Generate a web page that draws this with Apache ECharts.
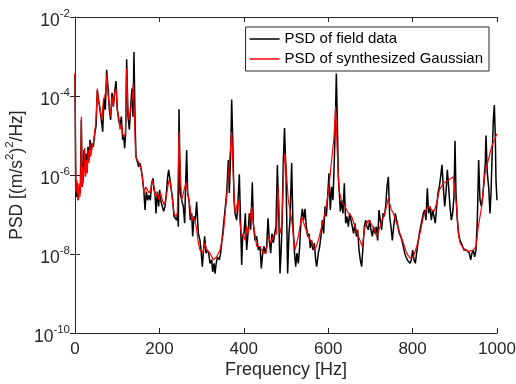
<!DOCTYPE html>
<html>
<head>
<meta charset="utf-8">
<script src="https://cdn.jsdelivr.net/npm/echarts@6/dist/echarts.min.js"></script>
<style>html,body{margin:0;padding:0;background:#fff}#c{width:516px;height:384px}</style>
</head>
<body>
<div id="c"></div>
<script>
// ---- data ----
const xTicks = [0, 200, 400, 600, 800, 1000];
const yTickExps = [-10, -8, -6, -4, -2];
const seriesNames = ['PSD of field data', 'PSD of synthesized Gaussian'];

const blackFreq = [0,1.6,4,5.5,7.9,10.3,12.6,15,17.4,19.8,21.3,23.7,26,28.4,30.8,33.2,35.5,38.7,41,43.5,46.6,49.8,52.9,56,59.2,62.4,65.6,68.7,71.9,75,78.2,81.4,84.5,87.7,90.9,94,97.2,100.3,103.5,106.7,109.8,113,115.3,117.7,120,122.4,125.6,128.8,131.9,135,137.5,139.8,142.2,144.6,147.7,150.9,154,157.2,160.4,163.5,165.9,169,172.2,175.4,178.5,181.7,184.9,187.2,189.6,192,195.1,198.3,200.7,203.8,207,210.1,213.3,216.5,219.6,222,225.2,228.3,231.5,234.6,237.8,241,243.3,244.9,246.5,249.5,252.8,256.7,259.9,262.2,264.6,267,270.1,273.3,276.5,278.8,282,285.1,288.3,292.3,296.2,298.6,301.7,304.1,307.3,310.4,313.6,316.7,319.9,323.9,326.2,329.4,331.8,334.1,337.3,342,345.2,348.3,351.5,355.5,359.4,363.4,365.7,368.9,371.3,373.6,376.8,379.2,383.1,386.3,389.4,392.6,395,397.3,400.5,403.6,406.8,410,413.1,416.3,420.2,422.6,426.6,430.5,434.5,438.4,441.6,444.7,447.9,451,454.2,457.4,460.5,463.7,466.8,470,473.2,476.3,479.5,482.6,485.8,488.2,490.5,493.7,496.5,500,503.9,507,509.5,513.4,516.6,519.7,522.9,526,529.2,532.4,535.5,538.7,541.8,545,548.2,551.3,554.5,557.6,560.8,564,567.1,570.3,572.7,576.6,579.8,582.9,586.1,589.2,592.4,595.6,598.7,601.9,605,608.2,611.4,614.5,616.9,619.3,621.6,624,626.4,628.7,631.9,635,638.2,641.4,644.5,647.7,650.9,654,657.2,660.3,663.5,666.7,669.8,673,676.1,679.3,682.5,685.6,688.8,691.9,695.1,698.3,701.4,704.6,707.7,710.9,714.1,717.2,720.4,723.5,726.7,729.9,733,736.2,739.3,742.5,745.7,748.8,752,755.1,759,762.2,765.4,768.5,771.7,774.8,778,781.2,784.3,787.5,790.6,793.8,797,800.1,803.3,806.4,809.6,812.8,815.9,819.1,822.2,825.4,828.6,831.7,834.9,838,841.2,844.4,847.5,850.7,853.8,857,860.2,863.3,866.5,869.6,872.8,876,879.1,882.3,885.4,888.6,891.8,894.9,898.1,900.5,902.8,906,909.1,912.3,915.5,918.6,921.8,924.9,928.1,931.3,934.4,937.6,940.7,943.9,947.1,950.2,953.4,956.5,959.7,962.9,966,969.2,972.3,973.9,977.1,980.2,983.4,985.8,988.1,991.3,993.7,996,997.6,1000];
const blackPsd = [3.5e-4,5.0e-7,2.8e-7,6.2e-7,2.3e-7,5.0e-7,3.5e-7,2.5e-5,5.0e-7,9.1e-7,4.3e-6,1.35e-6,3.5e-6,1.6e-6,5.2e-6,2.4e-6,7.8e-6,4.3e-6,6.3e-6,5.2e-6,1.1e-5,1.7e-5,1.4e-4,7.9e-5,4.5e-5,2.5e-5,1.25e-5,8.7e-5,4.5e-5,4.6e-4,1.7e-4,4.5e-5,2.5e-5,1.2e-4,5.4e-5,1.3e-4,2.4e-4,4.5e-5,2.5e-5,1.7e-5,3.0e-5,7.8e-6,1.0e-5,4.8e-6,1.1e-5,8.5e-4,3.0e-5,1.4e-5,5.4e-5,1.55e-4,3.0e-5,1.3e-3,2.5e-5,2.9e-6,2.2e-6,1.6e-6,2.0e-6,1.35e-6,7.4e-7,3.5e-7,1.3e-7,3.8e-7,2.3e-7,3.1e-7,2.3e-7,6.2e-7,8.2e-7,4.2e-7,3.5e-7,1.07e-7,3.8e-7,1.6e-7,4.2e-7,2.1e-7,1.6e-7,1.2e-7,1.6e-7,3.5e-7,9.1e-7,1.35e-6,7.4e-7,4.2e-7,2.3e-7,8.9e-8,8.0e-8,7.2e-8,1.07e-7,4.9e-8,4.6e-5,3.5e-7,2.3e-7,1.6e-7,6.0e-8,6.2e-7,4.3e-6,3.5e-7,2.3e-7,7.2e-8,1.07e-7,2.8e-8,8.9e-8,7.2e-8,2.1e-7,3.3e-8,2.2e-8,1.26e-8,4.8e-9,1.05e-8,2.8e-8,1.05e-8,1.26e-8,1.05e-8,5.8e-9,7.1e-9,3.5e-9,5.8e-9,3.2e-9,5.3e-9,8.5e-9,7.1e-9,1.05e-8,2.2e-8,4.9e-8,1.3e-7,3.5e-7,2.4e-6,3.5e-7,3.5e-6,8.2e-5,9.3e-6,2.3e-7,1.07e-7,7.2e-8,2.3e-7,1.05e-6,4.9e-8,5.3e-9,2.8e-8,3.3e-8,1.07e-7,1.26e-8,3.3e-8,1.07e-7,4.1e-8,6.5e-7,6.0e-8,2.2e-8,2.8e-8,1.26e-8,1.55e-8,4.3e-9,1.05e-8,1.55e-8,1.05e-8,1.55e-8,8.0e-8,2.2e-8,1.05e-8,3.3e-8,1.9e-8,3.3e-8,4.9e-8,1.8e-6,1.6e-7,3.2e-9,1.05e-8,4.9e-8,2.4e-6,1.55e-5,1.1e-6,3.2e-9,3.3e-8,7.2e-8,2.0e-6,4.9e-8,1.26e-8,4.8e-9,1.05e-8,5.8e-9,1.55e-8,7.2e-8,1.4e-7,7.2e-8,1.4e-7,4.9e-8,2.8e-8,3.3e-8,1.4e-8,2.2e-8,1.26e-8,1.9e-8,7.1e-9,4.8e-9,1.05e-8,1.55e-8,2.8e-8,7.2e-8,3.3e-8,1.6e-7,8.9e-8,2.8e-7,1.1e-6,1.3e-7,5.0e-7,2.3e-7,2.4e-6,2.0e-5,3.7e-4,2.5e-5,9.1e-7,3.5e-7,1.2e-7,2.3e-7,1.07e-7,6.2e-7,6.0e-8,8.9e-8,4.9e-8,1.07e-7,7.2e-8,4.9e-8,3.3e-8,6.0e-8,2.8e-8,4.1e-8,1.26e-8,7.1e-9,4.8e-9,1.55e-8,4.9e-8,7.2e-8,4.9e-8,4.1e-8,7.2e-8,4.1e-8,2.8e-8,4.9e-8,3.3e-8,4.9e-8,2.2e-8,1.3e-7,7.2e-8,4.1e-8,1.07e-7,8.9e-8,1.6e-7,5.0e-7,9.0e-7,8.9e-8,4.9e-8,2.2e-8,4.9e-8,1.07e-7,7.2e-8,4.9e-8,3.3e-8,2.8e-8,2.2e-8,1.55e-8,1.05e-8,8.5e-9,7.1e-9,7.8e-9,5.8e-9,7.1e-9,1.26e-8,7.1e-9,5.8e-9,1.05e-8,1.9e-8,3.3e-8,4.9e-8,7.2e-8,1.07e-7,1.3e-7,7.2e-8,4.6e-7,1.07e-7,1.6e-7,7.2e-8,1.3e-7,8.9e-8,6.0e-8,1.6e-7,3.5e-7,5.0e-7,9.1e-7,1.8e-6,5.0e-7,1.6e-7,3.5e-7,1.35e-6,5.0e-7,1.6e-7,7.2e-8,1.07e-7,2.8e-7,7.4e-6,3.5e-7,7.2e-8,3.3e-8,2.2e-8,1.9e-8,1.55e-8,1.26e-8,1.4e-8,1.26e-8,1.15e-8,1.05e-8,7.1e-9,1.05e-8,1.26e-8,8.5e-9,1.26e-8,7.2e-8,2.4e-6,2.3e-7,1.6e-7,2.8e-7,7.4e-7,2.0e-6,1.0e-5,1.1e-6,5.0e-7,1.07e-7,3.5e-7,2.4e-6,2.5e-5,5.9e-5,9.3e-6,7.4e-7,2.3e-7];

const redFreq = [0,2.4,4.7,7.1,9.5,11.9,13.4,15,16.6,19,21.3,22.9,25.3,27.7,29.2,30.8,33.2,35.5,37.1,41.1,45,47.4,49.8,52.9,55.3,57.7,60.8,64,67.2,70.3,73.5,75.8,78.2,81.4,84.5,87.7,90.9,94,97.2,100.3,103.5,106.7,109.8,113,116.1,119.3,122.4,124.8,128,131.9,135.9,138.2,140.6,143.8,147.7,151.7,155.6,159.6,163.5,167.5,171.4,175.4,179.3,183.3,187.2,191.2,195.1,199.1,203,207,210.9,214.9,218.8,222.8,226.7,230.7,234.6,238.6,242.5,246.5,249.5,252.8,256.7,263,268.6,272.5,276.5,280.4,284.4,288.3,292.3,296.2,302.5,308,312,319.9,327.8,335.7,343.6,351.5,359.4,365.7,371.3,375.2,379.2,383.1,387.1,391,395,398.9,402.9,406.8,410.8,414.7,418.7,422.6,430.5,438.4,446.3,452.6,458.2,463.7,470,477.9,481,485.8,489.8,495.3,497.7,505.5,513.4,521.3,529.2,537.1,545,552.9,560.8,568.7,576.6,584.5,592.4,600.3,608.2,613.7,617.7,621.6,625.6,631.9,639.8,647.7,655.6,663.5,671.4,680.9,687.2,695.1,701.4,709.3,714.9,722.8,730.7,736.2,742.5,748.8,754.3,762.2,770.1,778,785.9,793.8,801.7,809.6,817.5,825.4,833.3,839.6,845.2,850.7,857,863.3,872.8,884.7,896.5,900.5,904.4,908.4,912.3,920.2,932.1,943.9,950.2,955.8,963.7,971.5,979.4,987.3,995.2,1000];
const redPsd = [3.9e-4,3.5e-7,7.4e-7,2.3e-7,6.2e-7,2.8e-7,7.4e-7,3.0e-5,5.0e-7,1.6e-6,9.1e-7,4.8e-6,9.1e-7,2.4e-6,1.1e-6,4.3e-6,2.0e-6,6.3e-6,2.9e-6,5.2e-6,7.8e-6,1.4e-5,2.5e-5,1.55e-4,7.9e-5,6.5e-5,3.6e-5,2.5e-5,7.9e-5,9.6e-5,1.4e-4,3.7e-4,1.2e-4,5.4e-5,3.0e-5,9.6e-5,5.4e-5,1.2e-4,1.55e-4,4.5e-5,3.0e-5,1.4e-5,2.0e-5,1.1e-5,9.3e-6,1.1e-5,5.0e-4,5.4e-5,2.5e-5,4.5e-5,9.6e-5,2.1e-4,3.6e-5,2.9e-6,2.4e-6,2.0e-6,1.6e-6,9.1e-7,3.5e-7,5.0e-7,4.2e-7,3.5e-7,4.2e-7,7.4e-7,5.0e-7,2.8e-7,3.5e-7,2.3e-7,3.5e-7,2.3e-7,1.75e-7,2.3e-7,4.2e-7,7.4e-7,6.2e-7,2.3e-7,1.07e-7,8.9e-8,1.07e-7,1.25e-5,1.1e-6,2.3e-7,3.5e-7,6.4e-7,2.8e-7,1.6e-7,7.2e-8,8.9e-8,7.2e-8,4.1e-8,1.9e-8,1.26e-8,1.05e-8,1.9e-8,1.26e-8,1.05e-8,7.1e-9,8.5e-9,1.26e-8,3.3e-8,2.8e-7,2.0e-6,1.25e-5,9.1e-7,1.07e-7,1.6e-7,2.3e-7,6.0e-8,2.8e-8,3.3e-8,2.2e-8,4.9e-8,3.3e-8,7.2e-8,1.6e-7,6.0e-8,1.55e-8,1.55e-8,1.05e-8,1.05e-8,2.8e-8,1.9e-8,2.8e-8,3.3e-8,5.0e-7,3.3e-8,4.9e-8,2.0e-6,3.5e-6,2.3e-7,7.2e-8,1.26e-8,2.8e-8,8.9e-8,4.9e-8,2.8e-8,1.9e-8,1.26e-8,2.2e-8,4.9e-8,1.07e-7,3.5e-7,2.4e-6,9.3e-6,5.4e-5,3.5e-6,4.2e-7,2.1e-7,1.6e-7,1.07e-7,8.9e-8,4.9e-8,2.8e-8,1.55e-8,4.9e-8,7.2e-8,6.0e-8,4.1e-8,2.8e-8,4.9e-8,8.9e-8,1.3e-7,2.6e-7,1.4e-7,1.07e-7,6.0e-8,3.3e-8,1.9e-8,1.05e-8,7.8e-9,8.5e-9,1.55e-8,3.3e-8,8.9e-8,1.4e-7,1.6e-7,1.3e-7,1.2e-7,1.9e-7,4.2e-7,6.2e-7,7.4e-7,9.1e-7,9.1e-7,1.6e-7,3.3e-8,1.9e-8,1.4e-8,1.15e-8,1.26e-8,1.55e-8,4.9e-8,1.6e-7,1.1e-6,2.4e-6,5.2e-6,8.5e-6,1.1e-5];

// ---- chart ----
const FONT = 'Liberation Sans, Arial, Helvetica, sans-serif';
const INK = '#262626';
const pairs = (xs, ys) => xs.map((x, i) => [x, ys[i]]);
const expLabel = v => {
  const e = Math.round(Math.log10(v));
  return yTickExps.indexOf(e) >= 0 ? '{b|10}{s|' + e + '}' : '';
};

const chart = echarts.init(document.getElementById('c'), null, {renderer: 'canvas'});
const axisLine = {show: true, lineStyle: {color: INK, width: 1}};
const tick = {show: true, inside: true, length: 5, lineStyle: {color: INK, width: 1}};

chart.setOption({
  animation: false,
  backgroundColor: '#fff',
  grid: {left: 75, right: 19, top: 17, bottom: 51, containLabel: false, outerBoundsMode: 'none'},
  legend: {
    orient: 'vertical', right: 27, top: 27,
    icon: 'rect', itemWidth: 30, itemHeight: 1.5, itemGap: 0,
    padding: [2, 6, 2, 4],
    borderColor: INK, borderWidth: 1, backgroundColor: '#fff',
    textStyle: {fontSize: 15, color: '#000', fontFamily: FONT, lineHeight: 20},
    data: seriesNames
  },
  xAxis: [{
    type: 'value', min: xTicks[0], max: xTicks[xTicks.length - 1], interval: 200,
    position: 'bottom', axisLine, axisTick: tick, splitLine: {show: false},
    axisLabel: {fontSize: 17, color: INK, fontFamily: FONT, margin: 8,
      formatter: v => xTicks.indexOf(v) >= 0 ? String(v) : ''},
    name: 'Frequency [Hz]', nameLocation: 'middle', nameGap: 28, nameMoveOverlap: false,
    nameTextStyle: {fontSize: 18, color: INK, fontFamily: FONT}
  }, {
    type: 'value', min: 0, max: 1000, interval: 200, position: 'top',
    axisLine, axisTick: tick, axisLabel: {show: false}, splitLine: {show: false}
  }],
  yAxis: [{
    type: 'log', logBase: 10, min: 1e-10, max: 1e-2, interval: 2,
    position: 'left', axisLine, axisTick: tick, splitLine: {show: false},
    minorTick: {show: false},
    axisLabel: {
      color: INK, fontFamily: FONT, margin: 5, showMinLabel: true, showMaxLabel: true,
      padding: [4, 0, 0, 0],
      formatter: expLabel,
      rich: {
        b: {fontSize: 17.5, color: INK, fontFamily: FONT, verticalAlign: 'bottom', lineHeight: 22},
        s: {fontSize: 11.5, color: INK, fontFamily: FONT, verticalAlign: 'top', lineHeight: 22}
      }
    },
    name: '{n|PSD [(m/s}{s|2}{n|)}{s|2}{n|/Hz]}', nameLocation: 'middle', nameGap: 49,
    nameMoveOverlap: false,
    nameTextStyle: {
      fontSize: 17.5, color: INK, fontFamily: FONT,
      rich: {
        n: {fontSize: 17.5, color: INK, fontFamily: FONT, verticalAlign: 'bottom', lineHeight: 22},
        s: {fontSize: 11.5, color: INK, fontFamily: FONT, verticalAlign: 'top', lineHeight: 22}
      }
    }
  }, {
    type: 'log', logBase: 10, min: 1e-10, max: 1e-2, interval: 2,
    position: 'right', axisLine, axisTick: tick, axisLabel: {show: false},
    splitLine: {show: false}
  }],
  series: [{
    name: seriesNames[0], type: 'line', xAxisIndex: 0, yAxisIndex: 0,
    data: pairs(blackFreq, blackPsd), symbol: 'none', showSymbol: false,
    lineStyle: {color: '#000', width: 1.5}, itemStyle: {color: '#000'}
  }, {
    name: seriesNames[1], type: 'line', xAxisIndex: 0, yAxisIndex: 0,
    data: pairs(redFreq, redPsd), symbol: 'none', showSymbol: false,
    lineStyle: {color: '#ff0000', width: 1.2}, itemStyle: {color: '#ff0000'}
  }]
});
</script>
</body>
</html>
